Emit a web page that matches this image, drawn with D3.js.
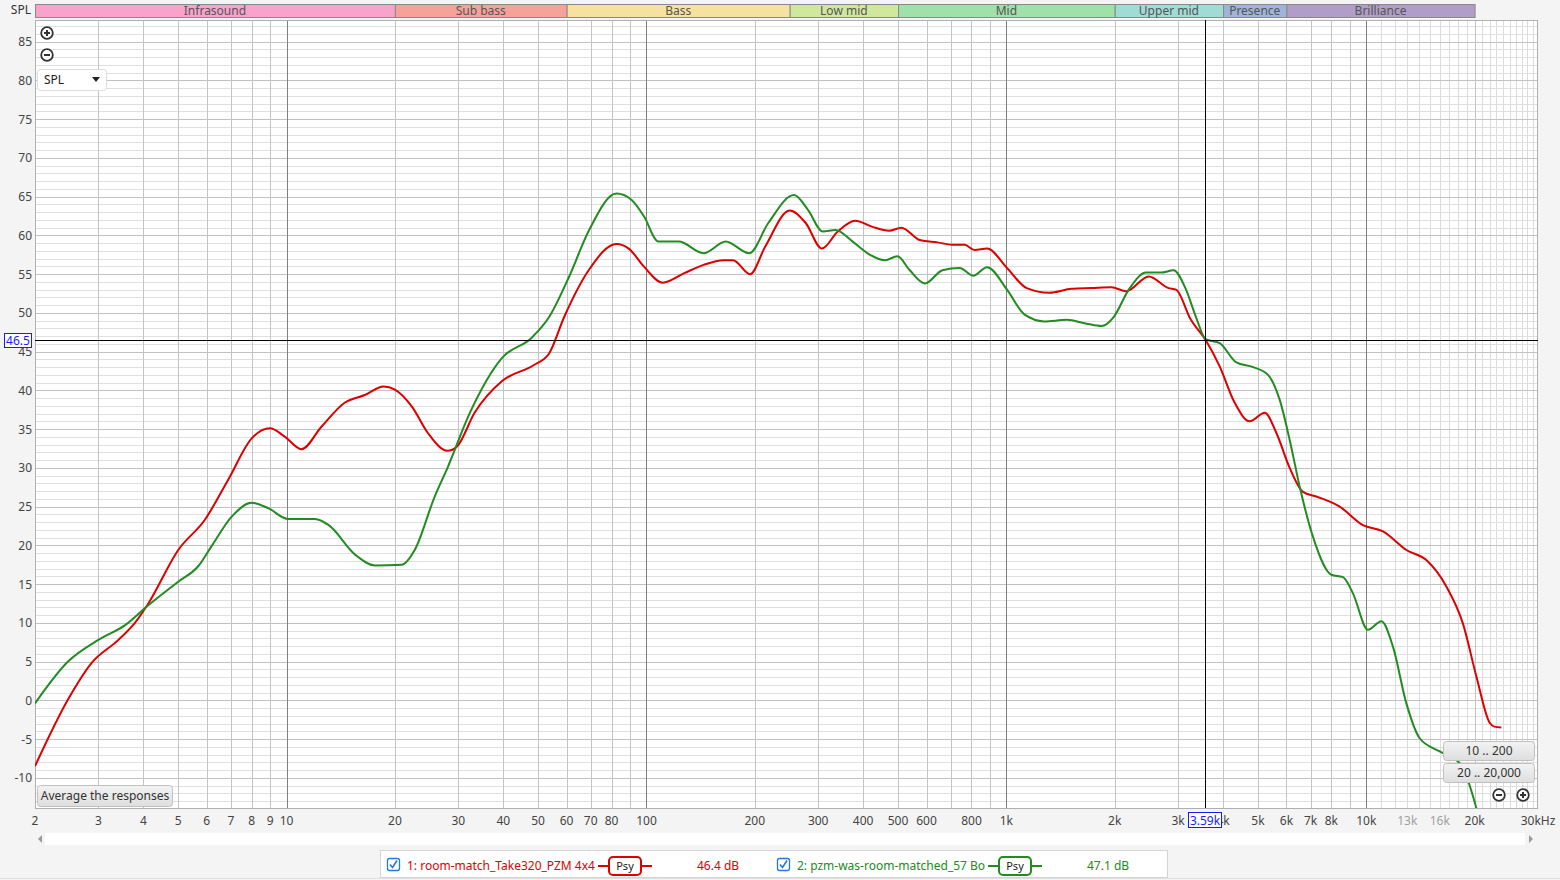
<!DOCTYPE html>
<html><head><meta charset="utf-8">
<script src="https://cdn.jsdelivr.net/npm/d3@7"></script>
<style>
html,body{margin:0;padding:0;background:#f4f4f4;overflow:hidden;}
svg{display:block;font-family:"Noto Sans","Open Sans",sans-serif;}
</style></head><body>
<svg id="c" width="1560" height="880"></svg>
<script>
// ---------- data ----------
const redFreq = [2.0,2.47,2.87,3.41,3.79,4.13,5.0,5.93,6.89,8.0,8.99,9.9,11.0,12.5,14.5,16.5,18.6,20.0,22.3,24.7,28.0,29.8,33.3,39.7,48.8,53.7,59.1,69.3,82.5,89.3,98.3,111,127,144,164,174,194,214,250,277,307,340,380,425,472,511,575,643,707,766,816,884,1004,1139,1316,1517,1724,1958,2154,2486,2822,2960,3256,3578,3914,4309,4743,5220,5626,6126,6670,7268,8434,9788,11130,12924,14682,16686,18560,20220,22020,22700,23730];
const redSpl  = [-8.5,0.1,4.8,7.8,10.0,12.5,19.4,23.3,28.5,33.8,35.1,34.0,32.4,35.3,38.4,39.4,40.5,40.1,37.9,34.5,32.2,32.8,37.1,41.2,43.3,44.8,49.5,55.6,58.9,58.3,56.0,53.9,55.1,56.2,56.8,56.8,55.0,58.6,63.2,61.6,58.3,60.5,61.9,61.1,60.6,61.0,59.4,59.1,58.8,58.8,58.1,58.3,55.8,53.2,52.6,53.1,53.2,53.3,52.8,54.7,53.2,53.0,49.1,46.5,43.1,38.4,36.0,37.1,34.5,30.0,26.9,26.3,25.0,22.6,21.8,19.4,18.1,14.7,9.9,3.1,-2.9,-3.4,-3.5];

const greenFreq = [2.0,2.47,3.0,3.56,4.09,5.0,5.68,6.19,7.04,8.0,8.89,10.1,12.0,13.1,15.5,17.6,20.9,22.7,25.8,28.0,32.3,39.7,48.0,53.7,61.0,69.3,82.5,90.8,98.3,108,123,144,166,193,218,257,281,309,335,374,418,460,498,539,594,664,742,808,884,1004,1122,1274,1470,1670,1838,1989,2188,2447,2691,2913,3156,3362,3578,3914,4356,4847,5333,5745,6126,6529,7110,8000,8616,9182,10106,11013,11864,12924,14072,15988,18170,20220,21000];
const greenSpl  = [-0.4,5.0,7.8,9.7,12.1,15.3,17.3,19.9,23.7,25.5,24.8,23.4,23.4,22.6,18.8,17.4,17.5,19.4,26.3,30.0,37.1,44.2,46.8,49.5,54.7,60.7,65.4,64.6,62.5,59.2,59.2,57.7,59.2,57.7,61.6,65.2,63.3,60.5,60.7,59.2,57.5,56.8,57.3,55.5,53.8,55.5,55.8,54.8,55.9,53.0,49.8,48.9,49.1,48.6,48.3,49.5,53.0,55.2,55.2,55.5,53.0,49.5,46.6,46.1,43.6,43.0,42.0,38.8,33.6,27.6,21.1,16.2,15.9,13.8,9.1,10.2,6.9,-0.4,-4.9,-6.6,-8.1,-13.9,-17.0];

const bandNames = ["Infrasound","Sub bass","Bass","Low mid","Mid","Upper mid","Presence","Brilliance"];
const bandEdges = [2,20,60,250,500,2000,4000,6000,20000];
const bandColors = ["#f9a3cc","#f7a19b","#f6e19e","#d0e89e","#a0e0a9","#9fdcd5","#a0b4da","#b19ec8"];

const yTicks = [85,80,75,70,65,60,55,50,45,40,35,30,25,20,15,10,5,0,-5,-10];
const xTickValues = [2,3,4,5,6,7,8,9,10,20,30,40,50,60,70,80,100,200,300,400,500,600,800,1000,2000,3000,4000,5000,6000,7000,8000,10000,13000,16000,20000,30000];
const xTickLabels = ["2","3","4","5","6","7","8","9","10","20","30","40","50","60","70","80","100","200","300","400","500","600","800","1k","2k","3k","4k","5k","6k","7k","8k","10k","13k","16k","20k","30kHz"];
const xTickFaint = ["13k","16k"];

const cursorFreq = 3590, cursorSpl = 46.5;
const legendNames = ["1: room-match_Take320_PZM 4x4","2: pzm-was-room-matched_57 Bo"];
const legendLevels = ["46.4 dB","47.1 dB"];

// ---------- layout ----------
const svg = d3.select('#c');
const P = {l:35, r:1538, t:20, b:808};
const x = d3.scaleLog().domain([2,30000]).range([P.l, P.r]);
const y = d3.scaleLinear().domain([-13.9,87.8]).range([P.b, P.t]);
const RED = "#dc0000", GREEN = "#228b22";

// background
svg.append('rect').attr('width',1560).attr('height',880).attr('fill','#f4f4f4');
svg.append('rect').attr('x',P.l).attr('y',P.t).attr('width',P.r-P.l).attr('height',P.b-P.t).attr('fill','#fff');

// band bar
const bands = bandNames.map((n,i)=>({name:n, from:bandEdges[i], to:bandEdges[i+1], color:bandColors[i]}));
const bg = svg.append('g');
bg.selectAll('rect').data(bands).join('rect')
  .attr('x',d=>x(d.from)+0.5).attr('y',4.5).attr('width',d=>x(d.to)-x(d.from)).attr('height',13)
  .attr('fill',d=>d.color).attr('stroke','#8a8a8a').attr('stroke-width',1);
bg.selectAll('text').data(bands).join('text')
  .attr('x',d=>(x(d.from)+x(d.to))/2).attr('y',15).attr('text-anchor','middle')
  .attr('font-size',12).attr('fill','#555').text(d=>d.name);
svg.append('text').attr('x',31).attr('y',14).attr('text-anchor','end').attr('font-size',12).attr('fill','#333').text('SPL');

// grid
const g = svg.append('g');
const hMinor = d3.range(-13, 88, 1).filter(v=>v%5!==0);
g.selectAll('line.hm').data(hMinor).join('line')
  .attr('x1',P.l).attr('x2',P.r).attr('y1',d=>Math.round(y(d))+0.5).attr('y2',d=>Math.round(y(d))+0.5)
  .attr('stroke','#e0e0e0');
const vFine = d3.range(11000,30000,1000).filter(v=>v!==20000);
g.selectAll('line.vf').data(vFine).join('line')
  .attr('x1',d=>Math.round(x(d))+0.5).attr('x2',d=>Math.round(x(d))+0.5).attr('y1',P.t).attr('y2',P.b)
  .attr('stroke','#dcdcdc');
const hMajor = d3.range(-10, 90, 5);
g.selectAll('line.hM').data(hMajor).join('line')
  .attr('x1',P.l).attr('x2',P.r).attr('y1',d=>Math.round(y(d))+0.5).attr('y2',d=>Math.round(y(d))+0.5)
  .attr('stroke','#c2c2c2');
const vMinor = [];
[1,10,100,1000].forEach(dec=>{ for(let m=2;m<=9;m++) vMinor.push(m*dec); });
vMinor.push(20000);
g.selectAll('line.vm').data(vMinor).join('line')
  .attr('x1',d=>Math.round(x(d))+0.5).attr('x2',d=>Math.round(x(d))+0.5).attr('y1',P.t).attr('y2',P.b)
  .attr('stroke','#c4c4c4');
const vMajor = [10,100,1000,10000];
g.selectAll('line.vM').data(vMajor).join('line')
  .attr('x1',d=>Math.round(x(d))+0.5).attr('x2',d=>Math.round(x(d))+0.5).attr('y1',P.t).attr('y2',P.b)
  .attr('stroke','#808080');

svg.append('rect').attr('x',P.l+0.5).attr('y',P.t+0.5).attr('width',P.r-P.l-1).attr('height',P.b-P.t)
  .attr('fill','none').attr('stroke','#b0b0b0');

// curves
svg.append('clipPath').attr('id','clip').append('rect').attr('x',P.l).attr('y',P.t).attr('width',P.r-P.l).attr('height',P.b-P.t);
const line = d3.line().x(d=>x(d[0])).y(d=>y(d[1])).curve(d3.curveMonotoneX);
const cg = svg.append('g').attr('clip-path','url(#clip)');
cg.append('path').datum(redFreq.map((f,i)=>[f,redSpl[i]])).attr('d',line)
  .attr('fill','none').attr('stroke',RED).attr('stroke-width',2);
cg.append('path').datum(greenFreq.map((f,i)=>[f,greenSpl[i]])).attr('d',line)
  .attr('fill','none').attr('stroke',GREEN).attr('stroke-width',2);

// cursor
const cx = Math.round(x(cursorFreq))-0.5, cy = Math.round(y(cursorSpl))+0.5;
svg.append('line').attr('x1',P.l).attr('x2',P.r).attr('y1',cy).attr('y2',cy).attr('stroke','#000');
svg.append('line').attr('x1',cx).attr('x2',cx).attr('y1',P.t).attr('y2',P.b).attr('stroke','#000');

// y axis labels
svg.append('g').selectAll('text').data(yTicks).join('text')
  .attr('x',32).attr('y',d=>y(d)+4.5).attr('text-anchor','end').attr('font-size',12).attr('fill','#444')
  .text(d=>d);
// x axis labels
svg.append('g').selectAll('text').data(xTickValues).join('text')
  .attr('x',d=>x(d)).attr('y',825).attr('text-anchor','middle').attr('font-size',12)
  .attr('fill',(d,i)=>xTickFaint.includes(xTickLabels[i])?'#a0a0a0':'#444')
  .text((d,i)=>xTickLabels[i]);

// cursor value boxes
svg.append('rect').attr('x',4.5).attr('y',333.5).attr('width',27).attr('height',14).attr('fill','#fff').attr('stroke','#1a1aff');
svg.append('text').attr('x',18).attr('y',345).attr('text-anchor','middle').attr('font-size',12).attr('fill','#1a1aff').text(cursorSpl.toFixed(1));
svg.append('rect').attr('x',1188.5).attr('y',812.5).attr('width',33).attr('height',15).attr('fill','#fff').attr('stroke','#1a1aff');
svg.append('text').attr('x',1205).attr('y',825).attr('text-anchor','middle').attr('font-size',12).attr('fill','#1a1aff').text((cursorFreq/1000).toFixed(2)+'k');

// zoom icons
function zoomIcon(cxp, cyp, plus){
  const gi = svg.append('g');
  gi.append('circle').attr('cx',cxp).attr('cy',cyp).attr('r',5.8).attr('fill','#fff').attr('stroke','#333').attr('stroke-width',1.8);
  gi.append('line').attr('x1',cxp-3).attr('x2',cxp+3).attr('y1',cyp).attr('y2',cyp).attr('stroke','#333').attr('stroke-width',2);
  if(plus) gi.append('line').attr('x1',cxp).attr('x2',cxp).attr('y1',cyp-3).attr('y2',cyp+3).attr('stroke','#333').attr('stroke-width',2);
}
zoomIcon(47,33,true); zoomIcon(47,55,false);
zoomIcon(1499,795,false); zoomIcon(1523,795,true);

// SPL dropdown
svg.append('rect').attr('x',37.5).attr('y',69.5).attr('width',69).attr('height',21).attr('rx',3).attr('fill','#fff').attr('stroke','#dcdcdc');
svg.append('text').attr('x',44).attr('y',84).attr('font-size',12).attr('fill','#222').text('SPL');
svg.append('path').attr('d','M92,77 L100,77 L96,82 Z').attr('fill','#222');

// buttons
const defs = svg.append('defs');
const grad = defs.append('linearGradient').attr('id','btn').attr('x1',0).attr('y1',0).attr('x2',0).attr('y2',1);
grad.append('stop').attr('offset','0').attr('stop-color','#f3f3f3');
grad.append('stop').attr('offset','1').attr('stop-color','#dedede');
function button(bx,by,bw,bh,label){
  svg.append('rect').attr('x',bx+0.5).attr('y',by+0.5).attr('width',bw).attr('height',bh).attr('rx',3)
    .attr('fill','url(#btn)').attr('stroke','#c0c0c0');
  svg.append('text').attr('x',bx+bw/2+0.5).attr('y',by+bh/2+4.5).attr('text-anchor','middle').attr('font-size',12).attr('fill','#333').text(label);
}
button(37,785,135,21,'Average the responses');
button(1443,741,91,19,'10 .. 200');
button(1443,763,91,19,'20 .. 20,000');

// scrollbar
svg.append('rect').attr('x',45).attr('y',833).attr('width',1480).attr('height',12).attr('fill','#fff');
svg.append('path').attr('d','M38,839 L42,835 L42,843 Z').attr('fill','#999');
svg.append('path').attr('d','M1533,839 L1529,835 L1529,843 Z').attr('fill','#999');

// legend
svg.append('line').attr('x1',0).attr('x2',1560).attr('y1',878.5).attr('y2',878.5).attr('stroke','#e0e0e0');
svg.append('rect').attr('x',380.5).attr('y',850.5).attr('width',787).attr('height',27).attr('fill','#fff').attr('stroke','#d4d4d4');
const legendColors = [RED, GREEN];
const legendX = [387, 777];
legendNames.forEach((name,i)=>{
  const lx = legendX[i], col = legendColors[i];
  svg.append('rect').attr('x',lx+0.5).attr('y',858.5).attr('width',12).attr('height',12).attr('rx',2)
    .attr('fill','#fff').attr('stroke','#1e7be0').attr('stroke-width',1.3);
  svg.append('path').attr('d',`M${lx+3},${864.5} L${lx+5.5},${867.5} L${lx+10},${860.5}`)
    .attr('fill','none').attr('stroke','#1e7be0').attr('stroke-width',1.6);
  svg.append('text').attr('x',lx+20).attr('y',870).attr('font-size',12).attr('fill',col).text(name);
  const px = lx + 211;
  svg.append('line').attr('x1',px).attr('x2',px+54).attr('y1',866).attr('y2',866).attr('stroke',col).attr('stroke-width',2);
  svg.append('rect').attr('x',px+11).attr('y',857).attr('width',32).attr('height',18).attr('rx',4)
    .attr('fill','#fff').attr('stroke',col).attr('stroke-width',2);
  svg.append('text').attr('x',px+27).attr('y',870).attr('text-anchor','middle').attr('font-size',11).attr('fill','#222').text('Psy');
  svg.append('text').attr('x',lx+310).attr('y',870).attr('font-size',12).attr('fill',col).text(legendLevels[i]);
});
</script>
</body></html>
